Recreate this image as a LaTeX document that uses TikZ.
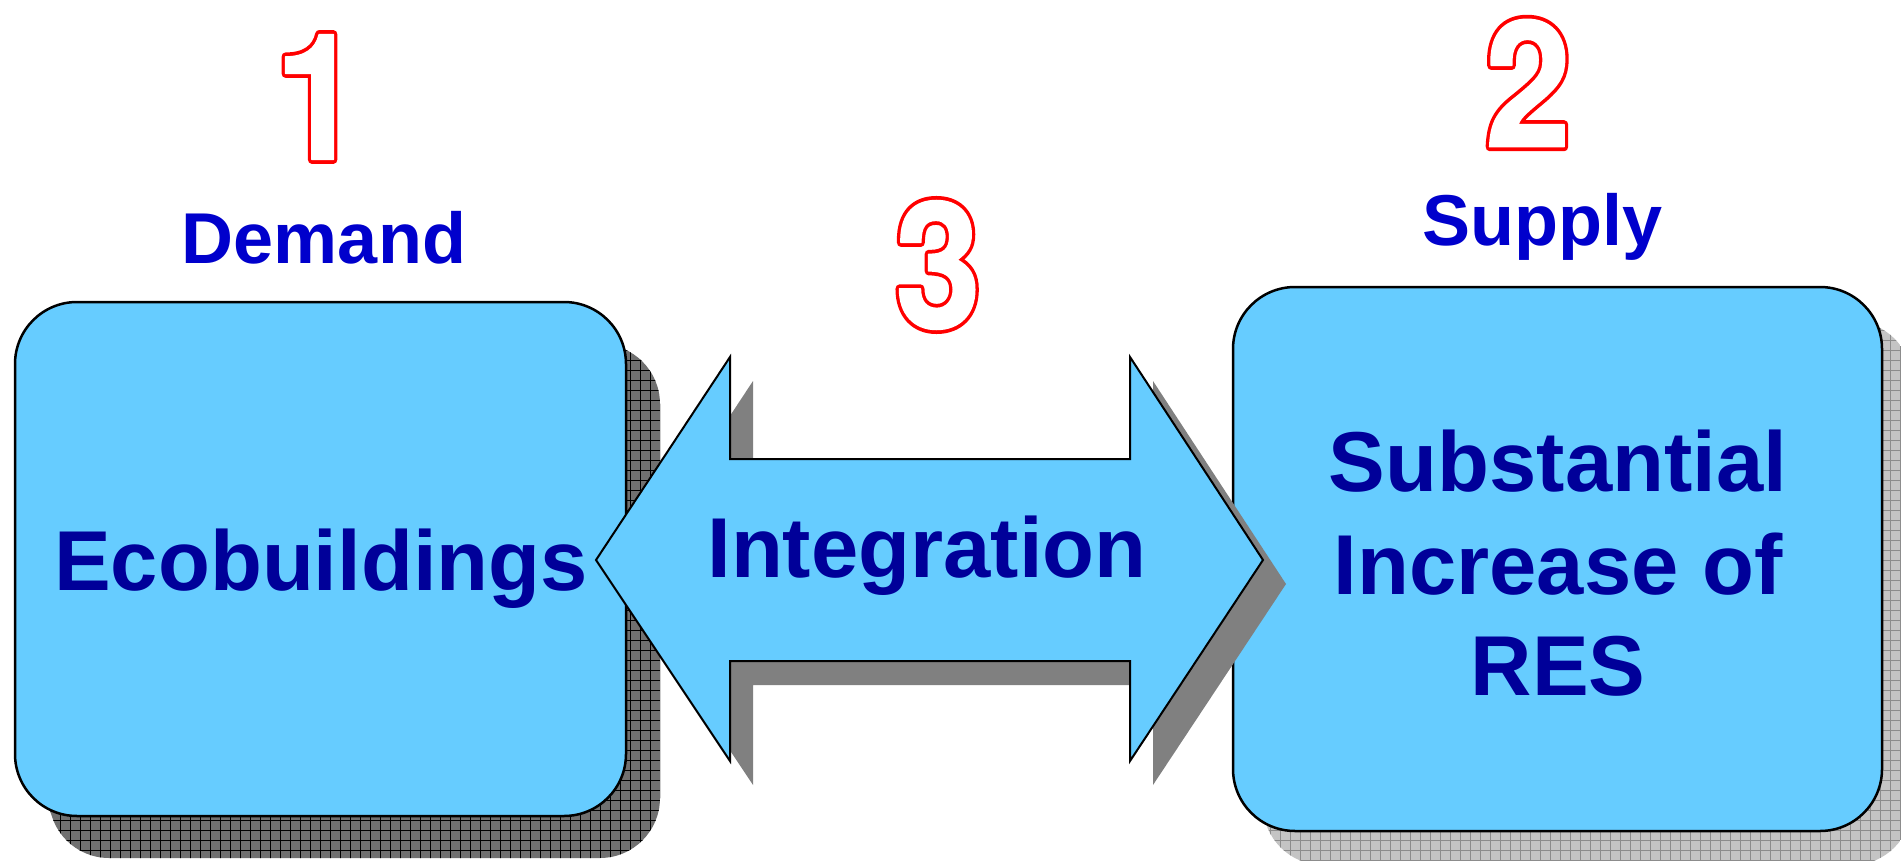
\documentclass[tikz,border=0pt]{standalone}
\usepackage{fontspec}
\usepackage{graphicx}
\setmainfont{Liberation Sans}
\newfontfamily\digitfont{TeX Gyre Heros}
\usetikzlibrary{backgrounds}
\definecolor{boxblue}{HTML}{66CCFF}
\definecolor{txtblue}{HTML}{000099}
\definecolor{lblblue}{HTML}{0000CC}
\definecolor{shdark}{HTML}{707070}
\definecolor{shlight}{HTML}{C4C4C4}
\definecolor{gridlight}{HTML}{8C8C8C}
\definecolor{arrowshadow}{HTML}{808080}
% outlined, slightly emboldened digit: red wide stroke, then white narrower stroke+fill on top
\newcommand\outlinetext[1]{%
  \makebox[0pt][l]{\special{pdf:literal direct 2 Tr 9 w 1 j 1 0 0 RG}#1}%
  {\color{white}\special{pdf:literal direct 2 Tr 1.5 w 1 j 1 1 1 RG}#1}%
  \special{pdf:literal direct 0 Tr}}
\begin{document}
\begin{tikzpicture}[x=1pt,y=-1pt,
  boxstyle/.style={draw=black, line width=2.5pt, fill=boxblue, rounded corners=62pt, inner sep=0pt, outer sep=0pt},
  bigtext/.style={font=\fontsize{85}{102}\selectfont\bfseries, text=txtblue, inner sep=0pt, anchor=base},
  labeltext/.style={font=\fontsize{72}{86}\selectfont\bfseries, text=lblblue, inner sep=0pt, anchor=base},
  digit/.style={font=\digitfont\fontsize{176}{190}\selectfont\bfseries, text=red, inner sep=0pt},
  arrowbody/.style={draw=black, line width=2pt, fill=boxblue},
]
\useasboundingbox (0,0) rectangle (1901,861);

% boxes
\node[boxstyle, minimum width=611pt, minimum height=514pt] (L) at (320.5,559) {};
\node[boxstyle, minimum width=649pt, minimum height=544pt] (R) at (1557.5,559) {};

% box shadows
\begin{scope}[on background layer]
  \begin{scope}
    \clip[rounded corners=60pt] ([shift={(34pt,-42pt)}]L.north west) rectangle ([shift={(34pt,-42pt)}]L.south east);
    \fill[shdark] (0,0) rectangle (1901,861);
    \draw[black, line width=1pt, step=10pt] (0,0) grid (1901,861);
  \end{scope}
  \begin{scope}
    \clip[rounded corners=60pt] ([shift={(30pt,-34pt)}]R.north west) rectangle ([shift={(30pt,-34pt)}]R.south east);
    \fill[shlight] (0,0) rectangle (1950,900);
    \draw[gridlight, line width=1pt, step=10pt] (0,0) grid (1950,900);
  \end{scope}
\end{scope}

% double arrow
\begin{scope}[shift={(23,24)}]
  \fill[arrowshadow] (596,560) -- (730,357) -- (730,459) -- (1130,459) -- (1130,357) -- (1263,560)
     -- (1130,761) -- (1130,661) -- (730,661) -- (730,761) -- cycle;
\end{scope}
\draw[arrowbody] (596,560) -- (730,357) -- (730,459) -- (1130,459) -- (1130,357) -- (1263,560)
     -- (1130,761) -- (1130,661) -- (730,661) -- (730,761) -- cycle;

% texts
\node[bigtext] (Ltext) at (321,590) {Ecobuildings};
\node[bigtext] (Itext) at (927,577) {Integration};
\node[bigtext] (R1) at (1558,491) {Substantial};
\node[bigtext] (R2) at (1558,594) {Increase of};
\node[bigtext] (R3) at (1558,695) {RES};
\node[labeltext] (demand) at (324,263) {Demand};
\node[labeltext] (supply) at (1542,246) {Supply};

% outlined numbers
\node[digit] (n1) at (318,97) {\scalebox{0.88}[1]{\outlinetext{1}}};
\node[digit] (n2) at (1528,83) {\scalebox{0.88}[1]{\outlinetext{2}}};
\node[digit] (n3) at (938,265) {\scalebox{0.88}[1]{\outlinetext{3}}};
\end{tikzpicture}
\end{document}
